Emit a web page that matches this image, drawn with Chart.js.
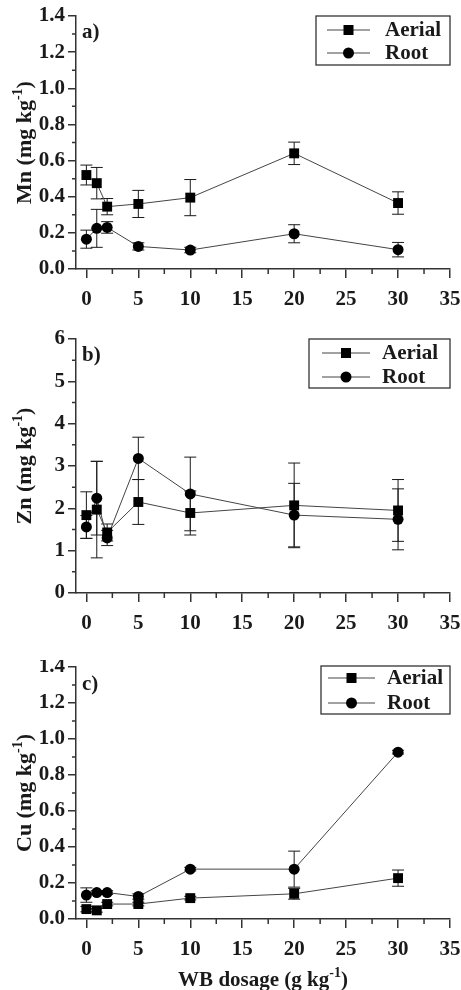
<!DOCTYPE html>
<html lang="en">
<head>
<meta charset="UTF-8" />
<title>Mn, Zn, Cu vs WB dosage</title>
<script src="https://cdn.jsdelivr.net/npm/chart.js"></script>
<style>
    body { margin: 0; background: #fff; }
    #wrap { position: relative; width: 461px; height: 990px; }
    canvas { position: absolute; left: 0; }
</style>
</head>
<body>
<div id="wrap">
    <canvas id="mn" width="461" height="330" style="top:0px"></canvas>
    <canvas id="zn" width="461" height="330" style="top:330px"></canvas>
    <canvas id="cu" width="461" height="330" style="top:660px"></canvas>
</div>
<script>
// x values (WB dosage, g/kg)
const dosage = [0, 1, 2, 5, 10, 20, 30];
const xTicks = [0, 5, 10, 15, 20, 25, 30, 35];
const xMinor = [2.5, 7.5, 12.5, 17.5, 22.5, 27.5, 32.5];

// a) Mn
const mnAerial    = [0.52, 0.475, 0.345, 0.36, 0.395, 0.64, 0.365];
const mnAerialErr = [0.055, 0.087, 0.045, 0.075, 0.1, 0.062, 0.062];
const mnRoot      = [0.165, 0.225, 0.23, 0.125, 0.105, 0.195, 0.107];
const mnRootErr   = [0.05, 0.105, 0.032, 0.02, 0.015, 0.05, 0.04];

// b) Zn
const znAerial    = [1.84, 1.97, 1.43, 2.15, 1.89, 2.07, 1.95];
const znAerialErr = [0.55, 1.14, 0.2, 0.53, 0.52, 1.0, 0.73];
const znRoot      = [1.56, 2.24, 1.3, 3.18, 2.34, 1.84, 1.74];
const znRootErr   = [0.27, 0.87, 0.18, 0.5, 0.87, 0.75, 0.72];

// c) Cu
const cuAerial    = [0.055, 0.048, 0.083, 0.083, 0.116, 0.14, 0.227];
const cuAerialErr = [0.015, 0.01, 0.01, 0.01, 0.01, 0.03, 0.045];
const cuRoot      = [0.133, 0.147, 0.147, 0.125, 0.277, 0.277, 0.927];
const cuRootErr   = [0.04, 0.01, 0.01, 0.015, 0.01, 0.1, 0.01];

const y14Ticks = [0, 0.2, 0.4, 0.6, 0.8, 1.0, 1.2, 1.4];
const y14Minor = [0.1, 0.3, 0.5, 0.7, 0.9, 1.1, 1.3];
const y6Ticks = [0, 1, 2, 3, 4, 5, 6];
const y6Minor = [0.5, 1.5, 2.5, 3.5, 4.5, 5.5];

const seriesNames = ['Aerial', 'Root'];

const FONT = "'Liberation Serif', 'Times New Roman', serif";
const INK = '#1a1a1a';
const LINE = '#444';

function drawSupText(ctx, x, y, parts, size) {
    // parts: [[text, isSup], ...]; drawn centred at x
    const big = 'bold ' + size + 'px ' + FONT;
    const small = 'bold ' + Math.round(size * 0.65) + 'px ' + FONT;
    let w = 0;
    for (const [t, sup] of parts) { ctx.font = sup ? small : big; w += ctx.measureText(t).width; }
    let cx = x - w / 2;
    ctx.textBaseline = 'alphabetic';
    ctx.textAlign = 'left';
    for (const [t, sup] of parts) {
        ctx.font = sup ? small : big;
        ctx.fillText(t, cx, sup ? y - size * 0.42 : y);
        cx += ctx.measureText(t).width;
    }
}

function makeDecor(p) {
    return {
        id: 'decor',
        beforeDatasetsDraw(chart) {
            const ctx = chart.ctx, xs = chart.scales.x, ys = chart.scales.y;
            ctx.save();
            ctx.strokeStyle = INK;
            ctx.lineWidth = 1;
            p.errs.forEach((errs, i) => {
                chart.data.datasets[i].data.forEach((pt, j) => {
                    const x = xs.getPixelForValue(pt.x);
                    const t = ys.getPixelForValue(pt.y + errs[j]);
                    const b = ys.getPixelForValue(pt.y - errs[j]);
                    ctx.beginPath();
                    ctx.moveTo(x, t); ctx.lineTo(x, b);
                    ctx.moveTo(x - 6, t); ctx.lineTo(x + 6, t);
                    ctx.moveTo(x - 6, b); ctx.lineTo(x + 6, b);
                    ctx.stroke();
                });
            });
            ctx.restore();
        },
        afterDraw(chart) {
            const ctx = chart.ctx, xs = chart.scales.x, ys = chart.scales.y;
            const area = chart.chartArea;
            ctx.save();
            // minor ticks
            ctx.strokeStyle = '#333';
            ctx.lineWidth = 1.5;
            ctx.beginPath();
            for (const v of p.yMinor) {
                const y = ys.getPixelForValue(v);
                ctx.moveTo(area.left - 4, y); ctx.lineTo(area.left, y);
            }
            for (const v of xMinor) {
                const x = xs.getPixelForValue(v);
                ctx.moveTo(x, area.bottom); ctx.lineTo(x, area.bottom + 5);
            }
            ctx.stroke();

            // legend box
            const lg = p.legend;
            ctx.lineWidth = 1.3;
            ctx.strokeStyle = '#333';
            ctx.strokeRect(lg.box[0], lg.box[1], lg.box[2] - lg.box[0], lg.box[3] - lg.box[1]);
            seriesNames.forEach((name, i) => {
                const y = lg.rows[i];
                ctx.strokeStyle = LINE;
                ctx.lineWidth = 1;
                ctx.beginPath();
                ctx.moveTo(lg.line[0], y); ctx.lineTo(lg.line[1], y);
                ctx.stroke();
                const mx = (lg.line[0] + lg.line[1]) / 2;
                ctx.fillStyle = '#000';
                if (i === 0) ctx.fillRect(mx - 5, y - 5, 10, 10);
                else { ctx.beginPath(); ctx.arc(mx, y, 5.5, 0, Math.PI * 2); ctx.fill(); }
                ctx.fillStyle = INK;
                ctx.font = 'bold 21px ' + FONT;
                ctx.textAlign = 'left';
                ctx.textBaseline = 'middle';
                ctx.fillText(name, lg.text, y + 1);
            });

            // panel tag
            ctx.fillStyle = INK;
            ctx.font = 'bold 21px ' + FONT;
            ctx.textAlign = 'left';
            ctx.textBaseline = 'middle';
            ctx.fillText(p.tag, area.left + 6, p.tagY);

            // y title
            ctx.save();
            ctx.translate(31, (area.top + area.bottom) / 2);
            ctx.rotate(-Math.PI / 2);
            drawSupText(ctx, 0, 0, [[p.elem + ' (mg kg', false], ['-1', true], [')', false]], 22);
            ctx.restore();

            // x title
            if (p.xTitle) {
                drawSupText(ctx, (area.left + area.right) / 2, 326,
                    [['WB dosage (g kg', false], ['-1', true], [')', false]], 21);
            }
            ctx.restore();
        }
    };
}

function makePanel(id, p) {
    const toPts = arr => arr.map((v, i) => ({ x: dosage[i], y: v }));
    const tickFont = { family: FONT, weight: 'bold', size: 21 };
    new Chart(document.getElementById(id), {
        type: 'line',
        data: {
            datasets: [
                {
                    label: seriesNames[0], data: toPts(p.aerial),
                    borderColor: LINE, borderWidth: 1,
                    pointStyle: 'rect', pointRadius: 7, pointBackgroundColor: '#000',
                    pointBorderColor: '#000', pointBorderWidth: 0
                },
                {
                    label: seriesNames[1], data: toPts(p.root),
                    borderColor: LINE, borderWidth: 1,
                    pointStyle: 'circle', pointRadius: 5.5, pointBackgroundColor: '#000',
                    pointBorderColor: '#000', pointBorderWidth: 0
                }
            ]
        },
        options: {
            responsive: false,
            animation: false,
            layout: { padding: { top: p.top, right: 11, left: 0, bottom: 0 } },
            plugins: { legend: { display: false }, tooltip: { enabled: false } },
            scales: {
                x: {
                    type: 'linear', min: -1, max: 35,
                    afterBuildTicks: s => { s.ticks = xTicks.map(v => ({ value: v })); },
                    afterFit: s => { s.height = p.xHeight; s.paddingLeft = 0; s.paddingRight = 0; },
                    grid: { drawOnChartArea: false, drawTicks: true, tickLength: 9, color: '#333', lineWidth: 1.5 },
                    border: { display: true, color: '#333', width: 1.5 },
                    ticks: { color: INK, font: tickFont, padding: 9, maxRotation: 0 }
                },
                y: {
                    type: 'linear', min: 0, max: p.yMax,
                    afterBuildTicks: s => { s.ticks = p.yTicks.map(v => ({ value: v })); },
                    afterFit: s => { s.width = 76; s.paddingTop = 0; s.paddingBottom = 0; },
                    grid: { drawOnChartArea: false, drawTicks: true, tickLength: 8, color: '#333', lineWidth: 1.5 },
                    border: { display: true, color: '#333', width: 1.5 },
                    ticks: { color: INK, font: tickFont, padding: 3, callback: v => p.fmt(v) }
                }
            }
        },
        plugins: [makeDecor(p)]
    });
}

makePanel('mn', {
    aerial: mnAerial, root: mnRoot, errs: [mnAerialErr, mnRootErr],
    yMax: 1.4, yTicks: y14Ticks, yMinor: y14Minor, fmt: v => v.toFixed(1),
    top: 16, xHeight: 61, tag: 'a)', tagY: 33, elem: 'Mn',
    legend: { box: [316, 16, 450, 65], line: [327, 370], text: 385, rows: [30, 53] }
});
makePanel('zn', {
    aerial: znAerial, root: znRoot, errs: [znAerialErr, znRootErr],
    yMax: 6, yTicks: y6Ticks, yMinor: y6Minor, fmt: v => String(v),
    top: 9, xHeight: 67, tag: 'b)', tagY: 26, elem: 'Zn',
    legend: { box: [309, 9, 450, 58], line: [322, 370], text: 382, rows: [23, 47] }
});
makePanel('cu', {
    aerial: cuAerial, root: cuRoot, errs: [cuAerialErr, cuRootErr],
    yMax: 1.4, yTicks: y14Ticks, yMinor: y14Minor, fmt: v => v.toFixed(1),
    top: 6, xHeight: 71, tag: 'c)', tagY: 25, elem: 'Cu', xTitle: true,
    legend: { box: [321, 6, 450, 54], line: [328, 375], text: 387, rows: [18, 43] }
});
</script>
</body>
</html>
